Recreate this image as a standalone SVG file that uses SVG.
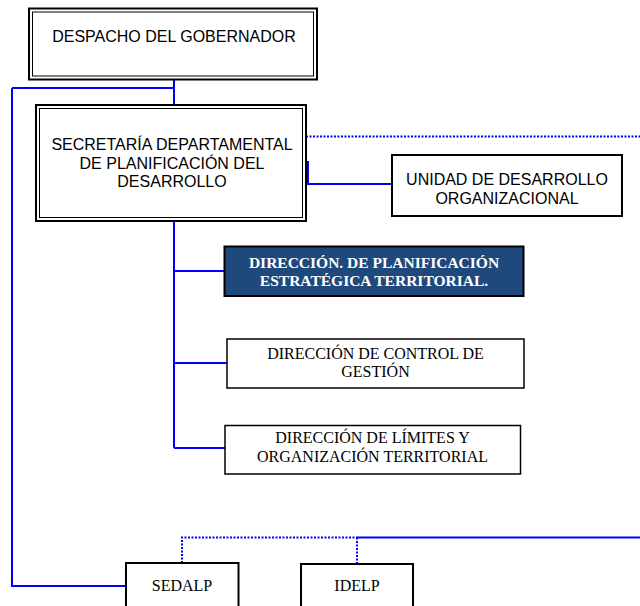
<svg xmlns="http://www.w3.org/2000/svg" width="640" height="606" viewBox="0 0 640 606">
<style>
.box{fill:#fff;stroke:#000;stroke-width:2}
.thin{fill:none;stroke:#000;stroke-width:1}
.sans{font-family:"Liberation Sans",Arial,sans-serif;font-size:16px;font-weight:normal;fill:#000;text-anchor:middle}
.serif{font-family:"Liberation Serif","Times New Roman",serif;font-size:16px;font-weight:normal;fill:#000;text-anchor:middle}
.bold{font-family:"Liberation Serif","Times New Roman",serif;font-size:15.5px;font-weight:bold;fill:#fff;text-anchor:middle}
.ln{fill:none;stroke:#0000ff;stroke-width:2}
.dot{fill:none;stroke:#0000ff;stroke-width:2;stroke-dasharray:2 1.5}
</style>
<rect width="640" height="606" fill="#fff"/>
<g id="connectors">
<path class="ln" d="M174 80 V105"/>
<path class="ln" d="M12 88 H174"/>
<path class="ln" d="M12 88 V586 H126"/>
<path class="ln" d="M174 222 V448"/>
<path class="ln" d="M174 271 H224"/>
<path class="ln" d="M174 363 H227"/>
<path class="ln" d="M174 448 H225"/>
<path class="ln" d="M308 161 V184 H392"/>
<path class="dot" d="M304.5 110 V136.5 H640"/>
<path class="dot" d="M182 563 V537.5 H357"/>
<path class="dot" d="M357 564 V537.5"/>
<path class="ln" d="M357 537.5 H640"/>
</g>
<g id="despacho">
<rect class="box" x="29" y="8.5" width="288" height="71"/>
<rect class="thin" x="32.5" y="12" width="281" height="64"/>
<text class="sans" x="174" y="41.5">DESPACHO DEL GOBERNADOR</text>
</g>
<g id="secretaria">
<rect class="box" x="36" y="105" width="270" height="116"/>
<rect class="thin" x="39.5" y="108.5" width="263" height="109"/>
<text class="sans" x="172" y="150">SECRETARÍA DEPARTAMENTAL</text>
<text class="sans" x="172" y="168.5">DE PLANIFICACIÓN DEL</text>
<text class="sans" x="172" y="187">DESARROLLO</text>
</g>
<g id="unidad">
<rect class="box" x="392" y="155" width="230" height="61"/>
<text class="sans" x="507" y="185">UNIDAD DE DESARROLLO</text>
<text class="sans" x="507" y="203.5">ORGANIZACIONAL</text>
</g>
<g id="planificacion">
<rect x="224.5" y="246.5" width="299" height="49.5" fill="#1F497D" stroke="#000" stroke-width="2"/>
<text class="bold" x="374" y="268">DIRECCIÓN. DE PLANIFICACIÓN</text>
<text class="bold" x="374" y="286">ESTRATÉGICA TERRITORIAL.</text>
</g>
<g id="control">
<rect class="box" x="227" y="339" width="297" height="49" style="stroke-width:1.5"/>
<text class="serif" x="375.5" y="359">DIRECCIÓN DE CONTROL DE</text>
<text class="serif" x="375.5" y="377">GESTIÓN</text>
</g>
<g id="limites">
<rect class="box" x="225" y="425.5" width="295.5" height="48.5" style="stroke-width:1.5"/>
<text class="serif" x="372.5" y="443">DIRECCIÓN DE LÍMITES Y</text>
<text class="serif" x="372.5" y="461.5">ORGANIZACIÓN TERRITORIAL</text>
</g>
<g id="sedalp">
<rect class="box" x="126" y="563" width="112.5" height="50"/>
<text class="serif" x="182" y="591">SEDALP</text>
</g>
<g id="idelp">
<rect class="box" x="301" y="564" width="112" height="50"/>
<text class="serif" x="357" y="591">IDELP</text>
</g>
</svg>
